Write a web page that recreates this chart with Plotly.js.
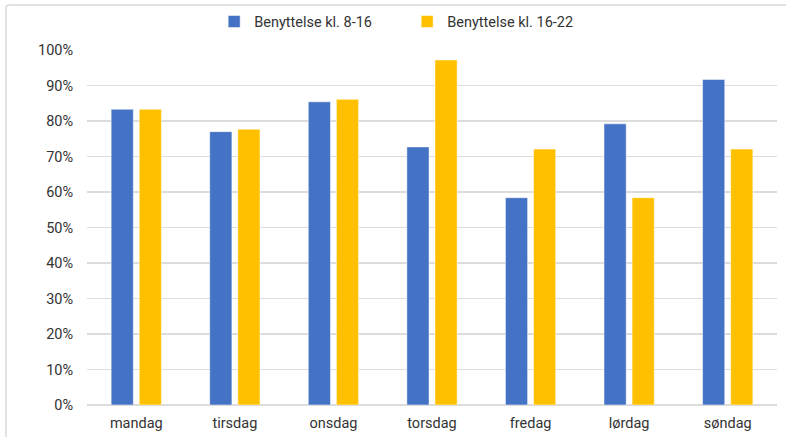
<!DOCTYPE html>
<html>
<head>
<meta charset="utf-8">
<script src="https://cdn.plot.ly/plotly-3.0.1.min.js"></script>
<style>
html,body{margin:0;padding:0;background:#fff;}
#frame{position:absolute;left:5px;top:4px;width:781px;height:433px;border-left:2px solid #e3e3e3;border-top:2px solid #e3e3e3;border-top-left-radius:4px;pointer-events:none;}
#chart{position:absolute;left:0;top:0;width:786px;height:437px;}
</style>
</head>
<body>
<div id="chart"></div>
<div id="frame"></div>
<script>
const days = ["mandag","tirsdag","onsdag","torsdag","fredag","lørdag","søndag"];
const seriesNames = ["Benyttelse kl. 8-16","Benyttelse kl. 16-22"];
const use8to16 = [0.833, 0.770, 0.854, 0.727, 0.584, 0.792, 0.917];
const use16to22 = [0.833, 0.777, 0.861, 0.972, 0.721, 0.584, 0.721];
const yTicks = [0,0.1,0.2,0.3,0.4,0.5,0.6,0.7,0.8,0.9,1.0];

const font = {family: "Roboto, 'DejaVu Sans', sans-serif", size: 14, color: "#333"};
const data = [
  {type:"bar", name: seriesNames[0], x: days, y: use8to16,
   marker:{color:"#4472C4", line:{color:"rgba(255,255,255,0.5)", width:1}}},
  {type:"bar", name: seriesNames[1], x: days, y: use16to22,
   marker:{color:"#FFC000", line:{color:"rgba(255,255,255,0.5)", width:1}}}
];
const layout = {
  width:786, height:437,
  margin:{l:87, r:9, t:50, b:32, autoexpand:false},
  paper_bgcolor:"#fff", plot_bgcolor:"#fff",
  font: font,
  barmode:"group", bargap:0.43, bargroupgap:0.21,
  showlegend:true,
  legend:{orientation:"h", x:0.464, xanchor:"center", y:1.035, yanchor:"bottom",
          font:{family:font.family, size:14.5, color:"#333"}, itemwidth:30, entrywidth:148, traceorder:"normal"},
  xaxis:{tickfont:{size:14.5, color:"#333"}, showgrid:false, showline:false, ticks:"outside", ticklen:5, tickcolor:"rgba(0,0,0,0)", fixedrange:true},
  yaxis:{range:[0,1.0], tickvals:yTicks, tickformat:".0%", tickfont:{size:14.5, color:"#333"},
         showgrid:true, gridcolor:"#dcdcdc", gridwidth:1.5, zeroline:true, zerolinecolor:"#dcdcdc", zerolinewidth:1.5,
         ticks:"outside", ticklen:10, tickcolor:"rgba(0,0,0,0)", showline:false}
};
Plotly.newPlot("chart", data, layout, {displayModeBar:false, staticPlot:true});
</script>
</body>
</html>
